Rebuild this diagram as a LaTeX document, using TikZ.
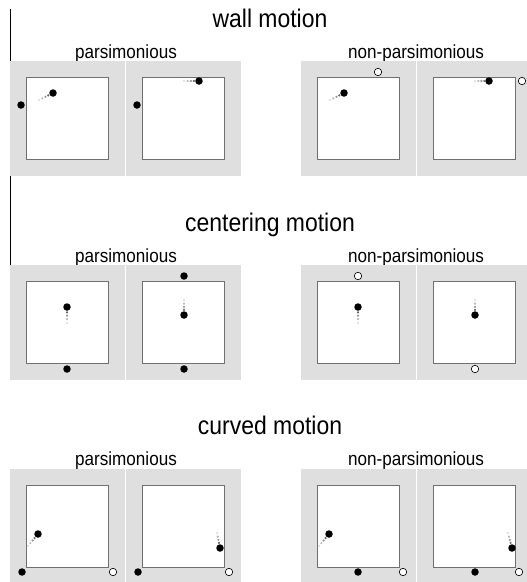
\documentclass[tikz,border=0pt]{standalone}
\usepackage{fontspec}
\setmainfont{Liberation Sans}
\newfontfamily\labelfont[FakeStretch=0.9]{Liberation Sans}
\usetikzlibrary{calc}

\definecolor{panelgray}{HTML}{DFDFDF}
\definecolor{framegray}{HTML}{707070}

% gray panel with the white arena in its middle: #1 name, #2 top-left corner
\newcommand{\arena}[2]{%
  \fill[panelgray] (#2) rectangle ++(115,115);
  \node[arenabox] (#1) at ($(#2)+(57.5,57.5)$) {};
}
% fading trail of the agent: #1 where it came from, #2 the agent
\newcommand{\trail}[2]{%
  \foreach \t/\s in {0/15,0.24/28,0.46/42,0.66/60}
    \fill[black!\s] ($(#1)!\t!(#2.center)$) circle (1.2);
}

\begin{document}
\begin{tikzpicture}[
    x=1pt, y=-1pt,
    arenabox/.style={draw=framegray, fill=white, line width=0.9pt, minimum size=82pt, inner sep=0pt},
    cue/.style={circle, fill=black, inner sep=0pt, minimum size=7.5pt},
    ghost/.style={circle, draw=black, fill=white, line width=0.6pt, inner sep=0pt, minimum size=7.5pt},
    agent/.style={cue},
    title/.style={anchor=base, inner sep=0pt, font=\labelfont\fontsize{25.5}{28}\selectfont},
    subtitle/.style={anchor=base, inner sep=0pt, font=\labelfont\fontsize{19}{21}\selectfont}
]
\useasboundingbox (0,0) rectangle (527,582);

\draw[line width=1.3pt] (10.5,9) -- (10.5,296);

% wall motion
\node[title] (wall) at (270,27) {wall motion};
\node[subtitle] (wallpars) at (126,58) {parsimonious};
\node[subtitle] (wallnon) at (416,58) {non-parsimonious};
\arena{wp1}{10,61}
\arena{wp2}{126,61}
\arena{wn1}{301,61}
\arena{wn2}{417,61}

\node[cue] (wp1cue) at (21,105) {};
\node[agent] (wp1agent) at (53,93) {};
\coordinate (wp1tail) at (39,100);
\trail{wp1tail}{wp1agent}

\node[cue] (wp2cue) at (137,105) {};
\node[agent] (wp2agent) at (199,81) {};
\coordinate (wp2tail) at (184,81);
\trail{wp2tail}{wp2agent}

\node[ghost] (wn1cue) at (378,72) {};
\node[agent] (wn1agent) at (344,93) {};
\coordinate (wn1tail) at (330,100);
\trail{wn1tail}{wn1agent}

\node[ghost] (wn2cue) at (522,81) {};
\node[agent] (wn2agent) at (489,81) {};
\coordinate (wn2tail) at (475,81);
\trail{wn2tail}{wn2agent}

% centering motion
\node[title] (center) at (270,231) {centering motion};
\node[subtitle] (centerpars) at (126,262) {parsimonious};
\node[subtitle] (centernon) at (416,262) {non-parsimonious};
\arena{cp1}{10,265}
\arena{cp2}{126,265}
\arena{cn1}{301,265}
\arena{cn2}{417,265}

\node[agent] (cp1agent) at (67,307) {};
\coordinate (cp1tail) at (67,323);
\trail{cp1tail}{cp1agent}
\node[cue] (cp1cue) at (67,369) {};

\node[cue] (cp2top) at (184,276) {};
\node[agent] (cp2agent) at (184,315) {};
\coordinate (cp2tail) at (184,300);
\trail{cp2tail}{cp2agent}
\node[cue] (cp2cue) at (184,369) {};

\node[ghost] (cn1cue) at (358,276) {};
\node[agent] (cn1agent) at (358,307) {};
\coordinate (cn1tail) at (358,323);
\trail{cn1tail}{cn1agent}

\node[agent] (cn2agent) at (475,315) {};
\coordinate (cn2tail) at (475,300);
\trail{cn2tail}{cn2agent}
\node[ghost] (cn2cue) at (475,369) {};

% curved motion
\node[title] (curve) at (270,434) {curved motion};
\node[subtitle] (curvepars) at (126,465) {parsimonious};
\node[subtitle] (curvenon) at (416,465) {non-parsimonious};
\arena{vp1}{10,469}
\arena{vp2}{126,469}
\arena{vn1}{301,469}
\arena{vn2}{417,469}

\node[cue] (vp1cue) at (22,572) {};
\node[ghost] (vp1goal) at (113,572) {};
\node[agent] (vp1agent) at (38,534) {};
\coordinate (vp1tail) at (28,546);
\trail{vp1tail}{vp1agent}

\node[cue] (vp2cue) at (138,572) {};
\node[ghost] (vp2goal) at (229,572) {};
\node[agent] (vp2agent) at (220,548) {};
\coordinate (vp2tail) at (217,533);
\trail{vp2tail}{vp2agent}

\node[cue] (vn1cue) at (358,572) {};
\node[ghost] (vn1goal) at (403,572) {};
\node[agent] (vn1agent) at (329,534) {};
\coordinate (vn1tail) at (319,546);
\trail{vn1tail}{vn1agent}

\node[cue] (vn2cue) at (475,572) {};
\node[ghost] (vn2goal) at (519,572) {};
\node[agent] (vn2agent) at (512,548) {};
\coordinate (vn2tail) at (508,533);
\trail{vn2tail}{vn2agent}
\end{tikzpicture}
\end{document}
